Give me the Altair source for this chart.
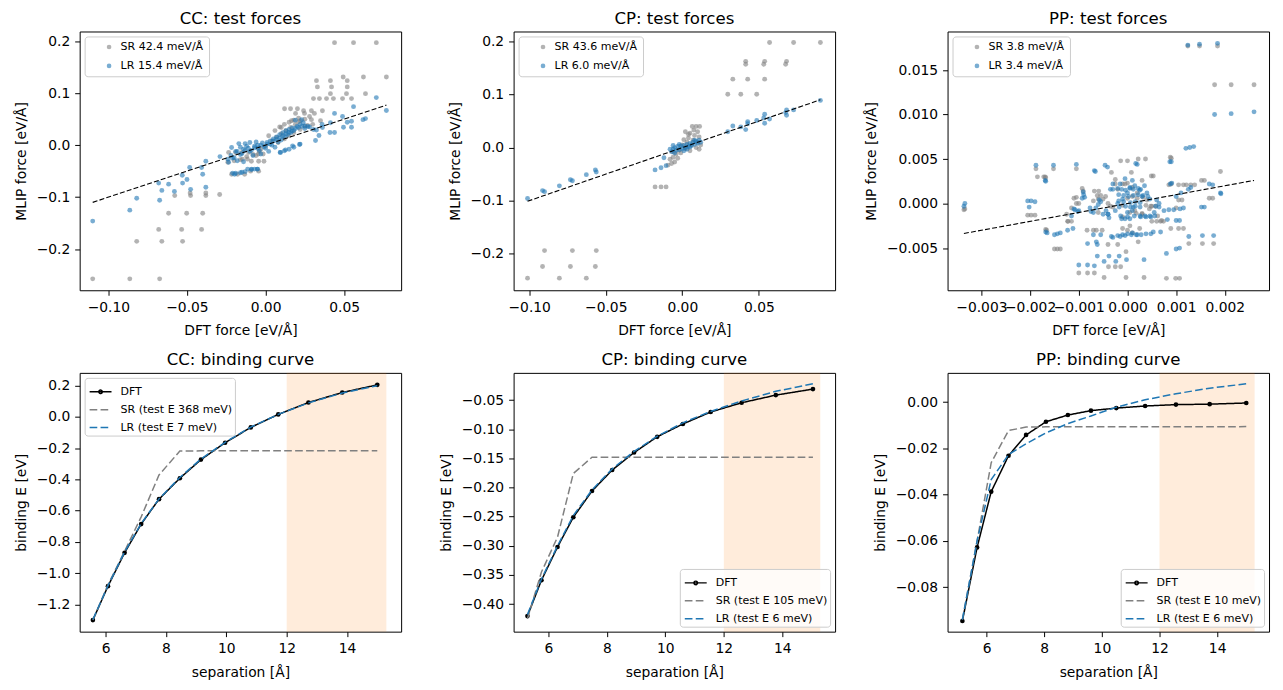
import altair as alt
import pandas as pd

FONT = "DejaVu Sans"
BLUE = "#1f77b4"
GRAY = "#808080"
ORANGE = "#ff7f0e"
MINUS = "\u2212"

# ---------------- top row: test forces (DFT force, MLIP force) ----------------
cc_sr_x = [-0.110, -0.0864, -0.0674, -0.082, -0.066, -0.0528, -0.068, -0.0534, -0.0407,
           -0.0617, -0.0502, -0.040, -0.0578, -0.0477, -0.038, -0.0292, -0.048, -0.038,
           0.0439, 0.056, 0.0705, 0.0769, 0.0623, 0.0494, 0.0324, 0.0413, 0.052, 0.033, 0.042, 0.052,
           0.0636, 0.0413, 0.0515, 0.0305, 0.0343, 0.0388, 0.0432, 0.049, 0.0547,
           0.0121, 0.0159, 0.0203, 0.0242, 0.0292, 0.0362, 0.0191, 0.0248, 0.0311,
           0.0165, 0.0222, 0.0292, 0.035, 0.0267,
           -0.0235, -0.019, -0.015, -0.0108, -0.0216, -0.0178, -0.0133, -0.0095, -0.0044,
           -0.009, -0.0044, -0.001, -0.0147, -0.0115, -0.0015, -0.0045, -0.006, -0.003, 0.0,
           0.004, 0.007, 0.010, 0.013, 0.016, 0.019, 0.021, 0.008, 0.012, 0.015, 0.018, 0.022, 0.025,
           0.006, 0.010, 0.002, 0.025, 0.028, 0.030,
           -0.024, -0.020, -0.016, -0.012, -0.008, -0.004, 0.009, 0.012, 0.015, 0.018, 0.021]
cc_sr_y = [-0.257, -0.257, -0.257, -0.185, -0.185, -0.185, -0.162, -0.162, -0.162,
           -0.131, -0.131, -0.131, -0.097, -0.097, -0.097, -0.095, -0.092, -0.092,
           0.197, 0.197, 0.197, 0.131, 0.131, 0.131, 0.124, 0.124, 0.124, 0.112, 0.112, 0.112,
           0.099, 0.099, 0.099, 0.0895, 0.0895, 0.0895, 0.0895, 0.0895, 0.0895,
           0.070, 0.070, 0.070, 0.066, 0.066, 0.066, 0.061, 0.061, 0.061,
           0.047, 0.047, 0.049, 0.047, 0.038,
           -0.014, -0.014, -0.014, -0.014, -0.056, -0.056, -0.056, -0.050, -0.050,
           -0.031, -0.031, -0.031, -0.027, -0.027, -0.017, -0.017, -0.020, -0.008, -0.002,
           0.008, 0.015, 0.022, 0.028, 0.034, 0.040, 0.045, 0.005, 0.012, 0.018, 0.024, 0.030, 0.036,
           0.028, 0.034, 0.018, 0.050, 0.055, 0.040,
           -0.033, -0.030, -0.028, -0.022, -0.018, -0.012, 0.035, 0.040, 0.044, 0.048, 0.052]
cc_lr_x = [-0.110, -0.0864, -0.082, -0.0674, -0.068, -0.066, -0.0617, -0.058, -0.053, -0.0528,
           -0.050, -0.0483, -0.0477, -0.0407, -0.040, -0.038, -0.038, -0.029, -0.0235, -0.0216,
           -0.0197, -0.017, -0.015, -0.0114, -0.0089, -0.007, -0.005,
           -0.019, -0.016, -0.014, -0.012, -0.010, -0.008, -0.007, -0.005, -0.004, -0.003, -0.002,
           0.000, 0.001, 0.002, 0.003, 0.004, 0.005, 0.006, 0.007, 0.008, 0.009, 0.010, 0.011, 0.012,
           0.013, 0.014, 0.015, 0.016, 0.017, 0.018, 0.020, 0.022, 0.024, 0.019, 0.023,
           -0.013, -0.010, -0.006, -0.016, -0.021, -0.018, -0.014,
           0.0095, 0.0127, 0.0172, 0.0216,
           0.0318, 0.034, 0.041, 0.0439, 0.0496, 0.0547, 0.0324, 0.0362, 0.0413, 0.0439, 0.049,
           0.056, 0.0705, 0.0769, 0.062, 0.0636, 0.052, 0.0547, 0.028, 0.025, 0.036, 0.0305,
           -0.024, -0.022, -0.020, -0.018, -0.015, -0.013, -0.011, -0.009, -0.007, -0.005, -0.003,
           -0.001, 0.001, 0.003, 0.005, 0.007, 0.009, 0.011, 0.013, 0.015, 0.017, 0.019, 0.021,
           0.023, 0.025, 0.027,
           -0.021, -0.019, -0.016, -0.013, -0.009, -0.0053,
           0.0093, 0.012, 0.015, 0.018, 0.022]
cc_lr_y = [-0.146, -0.125, -0.102, -0.106, -0.073, -0.087, -0.075, -0.089, -0.058, -0.073,
           -0.066, -0.043, -0.085, -0.043, -0.056, -0.031, -0.081, -0.022, -0.033, -0.0045,
           -0.056, 0.003, -0.052, -0.046, -0.046, -0.046, -0.046,
           -0.012, -0.018, -0.008, -0.002, -0.012, -0.020, -0.005, 0.000, -0.010, -0.017, 0.004,
           -0.006, 0.002, -0.012, 0.008, 0.000, 0.012, -0.004, 0.016, 0.006, 0.020, 0.010, 0.024, 0.016,
           0.028, 0.020, 0.030, 0.024, 0.033, 0.028, 0.036, 0.040, 0.043, 0.048, 0.049,
           0.003, 0.005, 0.006, -0.004, -0.025, -0.030, -0.032,
           -0.014, -0.009, -0.0013, 0.0013,
           0.009, 0.0185, 0.0243, 0.0243, 0.0345, 0.0345, 0.029, 0.034, 0.043, 0.061, 0.055,
           0.074, 0.0914, 0.0665, 0.049, 0.051, 0.044, 0.046, 0.035, 0.032, 0.040, 0.030,
           -0.027, -0.020, -0.024, -0.012, -0.016, -0.010, -0.006, -0.010, -0.002, -0.006, 0.000,
           -0.003, 0.005, 0.002, 0.008, 0.011, 0.014, 0.018, 0.022, 0.025, 0.027, 0.032, 0.034,
           0.036, 0.037, 0.036,
           -0.054, -0.054, -0.053, -0.051, -0.047, -0.046,
           -0.014, -0.011, -0.008, -0.004, 0.002]

cp_sr_x = [-0.1011, -0.0803, -0.0627, -0.0913, -0.0731, -0.0568, -0.090, -0.0718, -0.0562,
           -0.0178, -0.0139, -0.0106, 0.0297, 0.0382, 0.0486, 0.033, 0.0427, 0.0538,
           0.0414, 0.0414, 0.0538, 0.0532, 0.0681, 0.0675, 0.057, 0.0727, 0.0902,
           0.0065, 0.009, 0.0113, 0.0075, 0.010, 0.005, 0.008, 0.011, 0.004, 0.007, 0.010, 0.012,
           0.003, 0.006, 0.009, 0.011, 0.000, 0.002, 0.005, -0.002, -0.004, -0.006, -0.008, -0.005,
           -0.007, -0.003, -0.001, 0.001, 0.004, -0.006, 0.002, -0.0093]
cp_sr_y = [-0.246, -0.246, -0.246, -0.224, -0.224, -0.224, -0.194, -0.194, -0.194,
           -0.074, -0.074, -0.074, 0.1006, 0.1006, 0.1006, 0.129, 0.129, 0.129,
           0.1625, 0.157, 0.1625, 0.157, 0.1625, 0.157, 0.198, 0.198, 0.198,
           0.040, 0.040, 0.040, 0.033, 0.030, 0.027, 0.023, 0.020, 0.018, 0.014, 0.010, 0.005,
           0.010, 0.005, 0.000, -0.003, 0.005, -0.002, -0.006, -0.005, -0.012, -0.018, -0.022, -0.027,
           -0.030, -0.020, -0.010, 0.015, 0.025, -0.008, 0.030, -0.033]
cp_lr_x = [-0.1011, -0.0913, -0.090, -0.0803, -0.0731, -0.0718, -0.0627, -0.0568, -0.0562,
           -0.0178, -0.0139, -0.0106, -0.012,
           -0.007, -0.006, -0.005, -0.004, -0.003, -0.002, -0.001, 0.000, 0.001, 0.002, 0.003,
           0.004, 0.005, 0.006, 0.007, 0.008, 0.009, 0.010, 0.011, 0.012, -0.008, -0.006, -0.002,
           0.003, 0.005, -0.005, 0.001, 0.008,
           0.0297, 0.033, 0.0382, 0.0414, 0.0427, 0.0427, 0.0486, 0.0538, 0.0538, 0.057,
           0.0681, 0.0681, 0.0727, 0.0902, 0.0532, 0.0675]
cp_lr_y = [-0.096, -0.081, -0.083, -0.072, -0.0605, -0.0625, -0.051, -0.042, -0.046,
           -0.042, -0.038, -0.034, -0.019,
           -0.008, -0.003, 0.000, -0.005, 0.002, -0.004, 0.003, -0.002, 0.004, 0.000, 0.006,
           0.002, 0.008, 0.004, 0.010, 0.006, 0.012, 0.008, 0.014, 0.010, -0.003, 0.004, 0.006,
           -0.003, 0.001, -0.010, -0.006, 0.014,
           0.030, 0.0406, 0.039, 0.034, 0.049, 0.045, 0.051, 0.063, 0.046, 0.054,
           0.071, 0.061, 0.071, 0.089, 0.056, 0.066]

pp_sr_x = [-0.00336, -0.00334, -0.00205, -0.00198, -0.00190, -0.00188, -0.00152, -0.00105,
           -0.00169, -0.00168, -0.00168, -0.00166, -0.00150, -0.00144, -0.00138, -0.00123, -0.00115,
           -0.00105, -0.00100, -0.00093, -0.00091, -0.00068, -0.00059, -0.00083, -0.00064, -0.00052,
           -0.00100, -0.00082, -0.00068, -0.00048, -0.00003, 0.00034, 0.00080, 0.00099, 0.00107,
           -0.00039, -0.00025, -0.00014, -0.00040, -0.00020, -0.00003, 0.00022,
           -0.00033, -0.00014, 0.00008, 0.00022, 0.00037, 0.00049, 0.00053, 0.00088, 0.00090,
           0.00085, 0.00090, 0.00105, 0.00115, 0.00121, 0.00130, 0.00138, 0.00152, 0.00158,
           0.00168, 0.00175, 0.00191, 0.00179, 0.00213, 0.00260, 0.00124, 0.00148, 0.00185,
           0.00126, 0.00154, 0.00177, 0.00089, 0.00105, 0.00115, 0.00068, 0.00074, 0.00062, 0.00070,
           0.00100, 0.00105, 0.00112, 0.00050, 0.00040, -0.00020, -0.00005, 0.00010, 0.00020,
           -0.00010, 0.00000, 0.00015, -0.00030, -0.00045, -0.00060, -0.00070, 0.00030, 0.00045,
           0.00005, 0.00025, -0.00010, 0.00030, -0.00025, 0.00000,
           -0.00185, -0.00172, -0.00025, -0.00010, 0.00000, 0.00010, 0.00020, 0.00032,
           0.00005, 0.00018, 0.00030, 0.00038, 0.00048, 0.00058, -0.00062, -0.00055, -0.00050,
           -0.00060, -0.00040, -0.00035, -0.00105, -0.00110, -0.00115, -0.00125, -0.00122,
           -0.00070, -0.00010, 0.00000, 0.00010, 0.00050, 0.00060]
pp_sr_y = [-0.0007, -0.0006, -0.0013, -0.0013, -0.0013, 0.0039, 0.0039, 0.0039,
           0.0030, 0.0029, -0.0029, -0.0030, -0.0051, -0.0051, -0.0051, -0.0020, -0.0020,
           0.0000, 0.0000, 0.0017, 0.0014, 0.0014, 0.0014, -0.0030, -0.0030, -0.0030,
           -0.0078, -0.0078, -0.0078, -0.0083, -0.0083, -0.0083, -0.0084, -0.0084, -0.0084,
           -0.0071, -0.0071, -0.0071, -0.0046, -0.0046, -0.0054, -0.0043,
           0.0035, 0.0048, 0.0035, 0.0050, 0.0050, 0.0031, 0.0031, 0.0052, 0.0051,
           0.0021, 0.0022, 0.0021, 0.0021, 0.0021, 0.0021, 0.0021, 0.0026, 0.0026,
           0.0006, 0.0006, 0.0036, 0.01335, 0.01335, 0.01335, 0.0177, 0.0177, 0.0177,
           -0.0045, -0.0045, -0.0045, -0.0028, -0.0028, -0.0028, -0.0020, -0.0020, -0.0014, -0.0019,
           -0.0005, 0.0004, 0.0004, -0.0003, 0.0004, 0.0016, 0.0022, 0.0018, 0.0012,
           -0.0002, 0.0006, -0.0008, -0.0004, 0.0008, -0.0010, 0.0003, -0.0012, -0.0006,
           -0.0025, -0.0028, -0.0015, 0.0026, 0.0027, 0.0048,
           0.0030, 0.0030, 0.0022, 0.0022, 0.0023, 0.0008, 0.0006, 0.0007,
           -0.0010, -0.0011, -0.0011, -0.0002, -0.0003, -0.0003, 0.0009, 0.0009, 0.0005,
           0.0005, 0.0000, -0.0003, 0.0007, 0.0006, -0.0005, -0.0012, -0.0020,
           -0.0030, -0.0028, -0.0030, -0.0033, -0.0020, -0.0020]
pp_lr_x = [-0.00336, -0.00334, -0.00205, -0.00198, -0.00190, -0.00202, -0.00188, -0.00152, -0.00105,
           -0.00169, -0.00168, -0.00168, -0.00165, -0.00150, -0.00144, -0.00138, -0.00123, -0.00112,
           -0.00115, -0.00100, -0.00093, -0.00090, -0.00091, -0.00068, -0.00066, -0.00046, -0.00041,
           -0.00082, -0.00064, -0.00062, -0.00100, -0.00082, -0.00068, -0.00062, -0.00048, -0.00038,
           -0.00024, -0.00017, -0.00002, 0.00034, 0.00080, 0.00100, 0.00107,
           -0.00033, -0.00030, -0.00020, -0.00010, 0.00000, 0.00010, 0.00020, 0.00053, 0.00068,
           0.00017, 0.00020, 0.00087, 0.00090, 0.00120, 0.00128, 0.00136,
           0.00179, 0.00213, 0.00260, 0.00124, 0.00148, 0.00185, 0.00126, 0.00154, 0.00177,
           0.00152, 0.00158, 0.00168, 0.00175, 0.00191, 0.00192, 0.00088, 0.00091,
           0.00107, 0.00100, 0.00082, 0.00075, 0.00085, 0.00095, 0.00108, 0.00115,
           0.00100, 0.00110, 0.00125, 0.00130, 0.00027, 0.00038, 0.00048,
           -0.00005, 0.00005, 0.00000, 0.00010, 0.00012, -0.00020, -0.00010, 0.00000, 0.00005,
           0.00015, 0.00025, 0.00030, -0.00015, -0.00005, 0.00010, -0.00030, -0.00035, -0.00025,
           -0.00040, -0.00050, -0.00055, -0.00065, 0.00035, 0.00040, 0.00060, 0.00065, 0.00055,
           -0.00030, -0.00020, -0.00012, -0.00004, 0.00005, 0.00012, 0.00022, 0.00027,
           -0.00018, -0.00008, 0.00002, 0.00012, 0.00022, 0.00032, 0.00042,
           -0.00018, -0.00008, 0.00006, 0.00016, 0.00026, 0.00046,
           -0.00017, -0.00004, 0.00006, 0.00016, 0.00026,
           -0.00014, 0.00000, 0.00014, 0.00026, 0.00036, 0.00046, 0.00056,
           -0.00012, 0.00058, 0.00065, -0.00088, -0.00058, -0.00060, -0.00077, -0.00075, -0.00070,
           -0.00044, -0.00040, -0.00038, -0.00110, -0.00108, -0.00102,
           -0.00070, -0.00055, -0.00015, -0.00005, 0.00008, 0.00018, 0.00028, 0.00038, 0.00048]
pp_lr_y = [-0.0003, 0.0000, 0.0003, 0.0003, 0.0002, -0.0004, 0.0043, 0.0043, 0.0044,
           0.0026, 0.0025, -0.0032, -0.0033, -0.0035, -0.0034, -0.0033, -0.0030, -0.0028,
           -0.0014, -0.0008, 0.0006, 0.0010, 0.0013, 0.0037, 0.0036, 0.0043, 0.0041,
           -0.0045, -0.0043, -0.0046, -0.0069, -0.0069, -0.0070, -0.0059, -0.0065, -0.0059,
           -0.0065, -0.0059, -0.0063, -0.0063, -0.0056, -0.0051, -0.0050,
           -0.0037, -0.0038, -0.0036, -0.0035, -0.0034, -0.0033, -0.0035, -0.0032, -0.0032,
           0.0045, 0.0044, 0.0047, 0.0047, 0.0062, 0.0063, 0.0064,
           0.0100, 0.0101, 0.0103, 0.0178, 0.0179, 0.0180, -0.0037, -0.0036, -0.0036,
           -0.0004, -0.0004, 0.0022, 0.0021, 0.0012, 0.0011, 0.0022, 0.0023,
           -0.0019, -0.0019, -0.0018, -0.0008, -0.0007, -0.0007, -0.0006, -0.0005,
           0.0008, 0.0012, 0.0016, 0.0018, -0.0015, -0.0015, -0.0015,
           -0.0017, -0.0017, -0.0010, -0.0008, -0.0004, 0.0000, 0.0005, 0.0012, 0.0018,
           0.0020, 0.0015, 0.0008, 0.0022, 0.0028, 0.0026, 0.0022, 0.0016, -0.0008,
           -0.0012, -0.0012, 0.0002, -0.0005, 0.0020, 0.0012, 0.0004, -0.0004, -0.0010,
           0.0016, 0.0017, 0.0016, 0.0015, 0.0017, 0.0016, 0.0017, 0.0016,
           0.0010, 0.0009, 0.0008, 0.0009, 0.0010, 0.0009, 0.0008,
           0.0003, 0.0002, 0.0001, 0.0002, 0.0001, 0.0005,
           -0.0004, -0.0003, -0.0004, -0.0003, -0.0004,
           -0.0014, -0.0015, -0.0014, -0.0014, -0.0014, -0.0014, -0.0014,
           -0.0017, -0.0003, 0.0000, 0.0007, 0.0004, -0.0001, -0.0005, -0.0009, -0.0010,
           -0.0008, -0.0012, -0.0016, -0.0006, -0.0007, -0.0009,
           -0.0035, -0.0035, -0.0037, -0.0036, -0.0035, -0.0035, -0.0035, -0.0034, -0.0034]

# ---------------- bottom row: binding curves ----------------
cc_sep = [5.58, 6.08, 6.63, 7.18, 7.77, 8.46, 9.16, 9.96, 10.81, 11.72, 12.72, 13.84, 15.0]
cc_dft = [-1.300, -1.083, -0.870, -0.686, -0.527, -0.393, -0.274, -0.166, -0.068, 0.015, 0.091, 0.155, 0.204]
cc_sr = [-1.300, -1.075, -0.860, -0.640, -0.372, -0.219, -0.218, -0.218, -0.218, -0.218, -0.218, -0.218, -0.217]
cc_lr = [-1.296, -1.080, -0.865, -0.682, -0.525, -0.388, -0.270, -0.163, -0.066, 0.015, 0.089, 0.152, 0.199]

cp_sep = [5.28, 5.76, 6.31, 6.85, 7.49, 8.18, 8.93, 9.72, 10.60, 11.55, 12.61, 13.78, 15.05]
cp_dft = [-0.4205, -0.359, -0.302, -0.251, -0.206, -0.170, -0.140, -0.113, -0.091, -0.0705, -0.0546, -0.0415, -0.0312]
cp_sr = [-0.425, -0.345, -0.285, -0.176, -0.148, -0.148, -0.148, -0.148, -0.148, -0.148, -0.148, -0.148, -0.148]
cp_lr = [-0.418, -0.357, -0.300, -0.248, -0.204, -0.168, -0.138, -0.112, -0.089, -0.0695, -0.0515, -0.0350, -0.0221]

pp_sep = [5.16, 5.67, 6.16, 6.76, 7.37, 8.06, 8.82, 9.62, 10.50, 11.50, 12.57, 13.74, 15.01]
pp_dft = [-0.0946, -0.0628, -0.0387, -0.0232, -0.0142, -0.0085, -0.0056, -0.0037, -0.0026, -0.0017, -0.0011, -0.0009, -0.0004]
pp_sr = [-0.0940, -0.0600, -0.0262, -0.0123, -0.0108, -0.0107, -0.0107, -0.0107, -0.0107, -0.0107, -0.0107, -0.0107, -0.0106]
pp_lr = [-0.0940, -0.0600, -0.0335, -0.0227, -0.0180, -0.0133, -0.0093, -0.0060, -0.0022, 0.0010, 0.0036, 0.0060, 0.0079]

span_start = [12.0]
span_end = [15.3]

W, H = 323, 260


def lab(fmt):
    return f"replace(format(datum.value, '{fmt}'), '-', '{MINUS}')"


LEG_COMMON = dict(title=None, fillColor="rgba(255,255,255,0.8)", strokeColor="#cccccc",
                  cornerRadius=3, offset=5, labelFont=FONT, labelFontSize=11.1,
                  labelColor="black")

# legend handle for DFT: line with a dot in the middle; dashed handles for SR / LR
DFT_HANDLE = "M-1,0L1,0M0.16,0A0.16,0.16,0,1,1,-0.16,0A0.16,0.16,0,1,1,0.16,0Z"


def scatter_panel(title, sr_x, sr_y, lr_x, lr_y, sr_lab, lr_lab, xdom, ydom, xt, yt, xf, yf):
    df = pd.DataFrame({
        "dft": sr_x + lr_x,
        "mlip": sr_y + lr_y,
        "model": [sr_lab] * len(sr_x) + [lr_lab] * len(lr_x),
    })
    allx = sr_x + lr_x
    lo, hi = min(allx), max(allx)
    ref = pd.DataFrame({"dft": [lo, hi], "mlip": [lo, hi]})
    xenc = alt.X("dft:Q", scale=alt.Scale(domain=xdom, nice=False, zero=False),
                 axis=alt.Axis(title="DFT force [eV/Å]", values=xt, labelExpr=lab(xf), titlePadding=10))
    yenc = alt.Y("mlip:Q", scale=alt.Scale(domain=ydom, nice=False, zero=False),
                 axis=alt.Axis(title="MLIP force [eV/Å]", values=yt, labelExpr=lab(yf), titlePadding=8))
    pts = alt.Chart(df).mark_circle(size=24, opacity=0.6).encode(
        x=xenc, y=yenc,
        color=alt.Color("model:N", scale=alt.Scale(domain=[sr_lab, lr_lab], range=[GRAY, BLUE]),
                        legend=alt.Legend(orient="top-left", symbolType="circle", symbolSize=22,
                                          symbolOpacity=0.6, symbolOffset=14, labelOffset=6,
                                          rowPadding=7, padding=5, **LEG_COMMON)),
    )
    line = alt.Chart(ref).mark_line(color="black", strokeWidth=1.1, strokeDash=[5, 2.2]).encode(
        x=xenc, y=yenc)
    return alt.layer(pts, line).properties(width=W, height=H, title=title)


def binding_panel(title, sep, dft, sr, lr, sr_lab, lr_lab, xdom, ydom, yt, yf, orient):
    n = len(sep)
    series = ["DFT", sr_lab, lr_lab]
    xenc = alt.X("sep:Q", scale=alt.Scale(domain=xdom, nice=False, zero=False),
                 axis=alt.Axis(title="separation [Å]", values=[6, 8, 10, 12, 14], format="d",
                               titlePadding=10))
    yenc = alt.Y("E:Q", scale=alt.Scale(domain=ydom, nice=False, zero=False),
                 axis=alt.Axis(title="binding E [eV]", values=yt, labelExpr=lab(yf), titlePadding=8))
    legend = alt.Legend(orient=orient, symbolType="stroke", symbolSize=484, symbolStrokeWidth=1.5,
                        symbolFillColor="black", symbolOffset=2, labelOffset=8, rowPadding=-1,
                        padding=2, **LEG_COMMON)
    color = alt.Color("series:N", scale=alt.Scale(domain=series, range=["black", GRAY, BLUE]),
                      legend=legend)
    dash = alt.StrokeDash("series:N", scale=alt.Scale(domain=series, range=[[1, 0], [7.7, 3.3], [7.7, 3.3]]),
                          legend=legend)
    shape = alt.Shape("series:N", scale=alt.Scale(domain=series, range=[DFT_HANDLE, "stroke", "stroke"]),
                      legend=legend)
    span = alt.Chart(pd.DataFrame({"sep": span_start, "sep2": span_end})).mark_rect(
        color=ORANGE, opacity=0.15).encode(x=xenc, x2="sep2:Q")
    layers = [span]
    for name, vals in zip(series, [dft, sr, lr]):
        d = pd.DataFrame({"sep": sep, "E": vals, "series": [name] * n})
        layers.append(alt.Chart(d).mark_line(strokeWidth=1.5).encode(
            x=xenc, y=yenc, color=color, strokeDash=dash))
        if name == "DFT":
            layers.append(alt.Chart(d).mark_circle(size=22, color="black", opacity=1).encode(
                x=xenc, y=yenc))
    # legend-only layer (no rows) carrying the handle shapes
    empty = pd.DataFrame({"sep": pd.Series([], dtype=float), "E": pd.Series([], dtype=float),
                          "series": pd.Series([], dtype=str)})
    layers.append(alt.Chart(empty).mark_point(opacity=1, filled=False).encode(
        x=xenc, y=yenc, color=color, strokeDash=dash, shape=shape))
    return alt.layer(*layers).properties(width=W, height=H, title=title)


p1 = scatter_panel("CC: test forces", cc_sr_x, cc_sr_y, cc_lr_x, cc_lr_y,
                   "SR 42.4 meV/Å", "LR 15.4 meV/Å", [-0.1183, 0.0863], [-0.279, 0.2185],
                   [-0.10, -0.05, 0.0, 0.05], [-0.2, -0.1, 0.0, 0.1, 0.2], ".2f", ".1f")
p2 = scatter_panel("CP: test forces", cp_sr_x, cp_sr_y, cp_lr_x, cp_lr_y,
                   "SR 43.6 meV/Å", "LR 6.0 meV/Å", [-0.1102, 0.0998], [-0.2688, 0.2188],
                   [-0.10, -0.05, 0.0, 0.05, 0.10], [-0.2, -0.1, 0.0, 0.1, 0.2], ".2f", ".1f")
p3 = scatter_panel("PP: test forces", pp_sr_x, pp_sr_y, pp_lr_x, pp_lr_y,
                   "SR 3.8 meV/Å", "LR 3.4 meV/Å", [-0.003696, 0.002908], [-0.00974, 0.01933],
                   [-0.003, -0.002, -0.001, 0.0, 0.001, 0.002], [-0.005, 0.0, 0.005, 0.010, 0.015],
                   ".3f", ".3f")
p4 = binding_panel("CC: binding curve", cc_sep, cc_dft, cc_sr, cc_lr,
                   "SR (test E 368 meV)", "LR (test E 7 meV)", [5.142, 15.79], [-1.374, 0.2807],
                   [-1.2, -1.0, -0.8, -0.6, -0.4, -0.2, 0.0, 0.2], ".1f", "top-left")
p5 = binding_panel("CP: binding curve", cp_sep, cp_dft, cp_sr, cp_lr,
                   "SR (test E 105 meV)", "LR (test E 6 meV)", [4.807, 15.807], [-0.4472, -0.00336],
                   [-0.40, -0.35, -0.30, -0.25, -0.20, -0.15, -0.10, -0.05], ".2f", "bottom-right")
p6 = binding_panel("PP: binding curve", pp_sep, pp_dft, pp_sr, pp_lr,
                   "SR (test E 10 meV)", "LR (test E 6 meV)", [4.645, 15.80], [-0.0992, 0.01262],
                   [-0.08, -0.06, -0.04, -0.02, 0.0], ".2f", "bottom-right")

chart = alt.concat(p1, p2, p3, p4, p5, p6, columns=3,
                   spacing={"row": 83, "column": 113}, bounds="flush").resolve_scale(
    x="independent", y="independent", color="independent", strokeDash="independent",
    shape="independent"
).resolve_legend(color="independent", strokeDash="independent", shape="independent").properties(
    padding={"left": 5, "top": 0, "right": 5, "bottom": 2}
).configure_view(
    stroke="black", strokeWidth=1
).configure_axis(
    domain=False, grid=False, tickColor="black", tickSize=5, tickWidth=1, labelPadding=5,
    labelFont=FONT, labelFontSize=13.9, labelColor="black", titleFont=FONT, titleFontSize=13.9,
    titleColor="black", titleFontWeight="normal", labelFlush=False, labelOverlap=False,
    labelBound=False
).configure_title(
    font=FONT, fontSize=16.67, fontWeight="normal", color="black", anchor="middle", offset=4
)

chart.save("out.html", embed_options={"renderer": "svg", "actions": False})
